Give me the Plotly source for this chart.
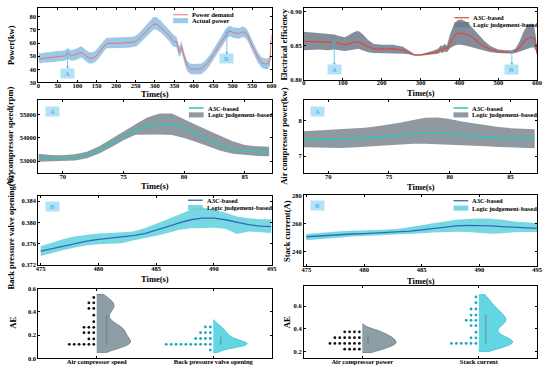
import numpy as np
import plotly.graph_objects as go

W, H = 550, 373
FONT = "Liberation Serif"

# ---------------- data ----------------
# Panel (a): power tracking over the whole cycle
t_power = [0, 4, 10, 20, 30, 40, 50, 60, 68, 75, 80, 85, 95, 105, 110, 115, 122, 130, 140, 148,
           155, 165, 175, 185, 200, 215, 230, 245, 255, 265, 275, 285, 295, 300, 305, 315, 325,
           335, 345, 350, 355, 358, 362, 365, 368, 371, 376, 382, 390, 400, 410, 420, 430, 440,
           450, 460, 470, 480, 488, 495, 500, 510, 518, 525, 532, 538, 545, 555, 565, 575, 585,
           592, 596, 600]
power_demand = [50.5, 48, 48.3, 48.6, 48.8, 49, 49.5, 49.8, 50.2, 52, 51, 50.3, 51.2, 52.5, 53, 52,
                50, 48.5, 48.5, 50, 52.5, 56, 59.5, 59.8, 59.7, 60, 60.3, 60.8, 62, 65, 68, 71.5,
                74, 74.5, 74.2, 72, 69, 66, 62, 61, 61.5, 58, 53, 54, 57.5, 54, 48, 43, 40.5, 40,
                40, 40.5, 43, 46.5, 51, 56, 61, 65.5, 68.5, 69, 68, 67.5, 67.5, 68.5, 68, 66, 61,
                55, 49, 45, 44, 44.5, 47, 66]
power_hi = [54, 52, 52.5, 53, 53, 53.5, 54, 54, 54.5, 56, 55, 54.5, 55.5, 57, 57.5, 56.5, 54.5, 53,
            53, 54.5, 57, 60.5, 64, 64, 64, 64, 64.5, 65, 66.5, 69.5, 73, 76.5, 79.5, 80, 79.5, 77,
            73.5, 70.5, 66.5, 65.5, 65, 62.5, 57.5, 58.5, 61.5, 58.5, 52, 47, 44.5, 44, 44, 44.5,
            47, 50.5, 55, 60, 65, 69.5, 72.5, 73, 72, 71.5, 71.5, 72.5, 72, 70, 65, 59, 53, 49,
            48, 48.5, 51, 70]
power_lo = [46, 44.5, 45, 45, 45.5, 45.5, 46, 46, 46.5, 48, 47.5, 46.5, 47, 48.5, 49, 48, 46, 44.5,
            44.5, 46, 48.5, 52, 56, 56, 56, 56.5, 56.5, 57, 58, 61, 64, 67.5, 70, 70.5, 70, 68, 65,
            62, 58, 57, 57, 54, 49.5, 50, 53, 50, 44, 39, 36.5, 36, 36, 36.5, 39, 42.5, 47, 52,
            57, 61.5, 64.5, 65, 64, 63.5, 63.5, 64.5, 64, 62, 57, 51, 45, 41, 40, 40.5, 43, 62]

# Panel (b): electrical efficiency
t_eff = [0, 20, 40, 60, 78, 90, 105, 118, 130, 140, 150, 165, 180, 200, 230, 255, 270, 285, 300,
         315, 330, 345, 352, 356, 362, 368, 375, 385, 395, 405, 420, 435, 450, 465, 480, 500,
         520, 535, 545, 555, 565, 575, 585, 592, 597, 600]
eff_a3c = [0.856, 0.856, 0.8555, 0.855, 0.855, 0.853, 0.851, 0.853, 0.855, 0.855, 0.853, 0.848,
           0.845, 0.845, 0.845, 0.843, 0.839, 0.836, 0.836, 0.837, 0.839, 0.841, 0.845, 0.843,
           0.847, 0.845, 0.853, 0.863, 0.868, 0.868, 0.866, 0.861, 0.854, 0.848, 0.844, 0.841,
           0.840, 0.840, 0.842, 0.847, 0.855, 0.860, 0.862, 0.861, 0.852, 0.838]
eff_hi = [0.870, 0.869, 0.868, 0.867, 0.866, 0.864, 0.862, 0.866, 0.870, 0.871, 0.867, 0.858,
          0.852, 0.851, 0.851, 0.848, 0.842, 0.837, 0.837, 0.839, 0.842, 0.845, 0.850, 0.849,
          0.852, 0.850, 0.865, 0.880, 0.887, 0.888, 0.884, 0.875, 0.865, 0.856, 0.849, 0.844,
          0.843, 0.843, 0.846, 0.856, 0.870, 0.880, 0.882, 0.880, 0.862, 0.842]
eff_lo = [0.843, 0.844, 0.844, 0.843, 0.844, 0.843, 0.842, 0.843, 0.844, 0.845, 0.843, 0.840,
          0.839, 0.839, 0.839, 0.838, 0.837, 0.835, 0.835, 0.836, 0.837, 0.838, 0.840, 0.839,
          0.841, 0.840, 0.845, 0.849, 0.851, 0.851, 0.849, 0.847, 0.844, 0.842, 0.840, 0.839,
          0.838, 0.838, 0.839, 0.841, 0.844, 0.846, 0.847, 0.847, 0.842, 0.835]

# Zoom A (t = 68 ... 87 s)
t_A = list(range(68, 88))
speed_a3c = [53140, 53120, 53115, 53150, 53260, 53480, 53760, 54060, 54340, 54520, 54600, 54580,
             54450, 54200, 53930, 53680, 53510, 53430, 53410, 53410]
speed_hi = [53310, 53260, 53250, 53290, 53400, 53640, 53950, 54290, 54600, 54900, 55060, 55060,
            54800, 54560, 54320, 54080, 53860, 53700, 53640, 53620]
speed_lo = [52970, 52980, 52990, 53020, 53120, 53330, 53600, 53900, 54140, 54150, 54150, 54130,
            54000, 53830, 53640, 53440, 53310, 53260, 53220, 53210]
cpower_a3c = [7.47, 7.47, 7.47, 7.47, 7.48, 7.51, 7.54, 7.58, 7.62, 7.65, 7.66, 7.66, 7.64, 7.60,
              7.56, 7.53, 7.51, 7.50, 7.50, 7.50]
cpower_hi = [7.70, 7.72, 7.73, 7.75, 7.77, 7.80, 7.84, 7.89, 7.95, 8.02, 8.08, 8.09, 8.05, 7.98,
             7.92, 7.86, 7.82, 7.79, 7.77, 7.76]
cpower_lo = [7.25, 7.24, 7.23, 7.23, 7.24, 7.26, 7.29, 7.32, 7.34, 7.35, 7.35, 7.34, 7.33, 7.32,
             7.30, 7.28, 7.26, 7.24, 7.23, 7.22]

# Zoom B (t = 475 ... 495 s)
t_B = list(range(475, 496))
valve_a3c = [0.3746, 0.3751, 0.3756, 0.3761, 0.3765, 0.3768, 0.3770, 0.3772, 0.3775, 0.3779,
             0.3785, 0.3792, 0.3799, 0.3805, 0.3808, 0.3808, 0.3805, 0.3800, 0.3796, 0.3793, 0.3792]
valve_hi = [0.3755, 0.3762, 0.3769, 0.3774, 0.3777, 0.3779, 0.3780, 0.3781, 0.3783, 0.3789,
            0.3797, 0.3806, 0.3815, 0.3824, 0.3828, 0.3824, 0.3818, 0.3811, 0.3808, 0.3806, 0.3806]
valve_lo = [0.3737, 0.3743, 0.3748, 0.3753, 0.3757, 0.3759, 0.3760, 0.3761, 0.3766, 0.3770,
            0.3775, 0.3780, 0.3786, 0.3789, 0.3790, 0.3790, 0.3788, 0.3778, 0.3783, 0.3781, 0.3780]
current_a3c = [250.5, 251.1, 251.6, 252.1, 252.5, 252.8, 253.1, 253.4, 253.8, 254.5, 255.5, 256.5,
               257.5, 258.3, 258.7, 258.7, 258.3, 257.8, 257.2, 256.8, 256.5]
current_hi = [252.5, 253.3, 254.0, 254.5, 254.8, 255.0, 255.5, 255.8, 256.2, 257.3, 258.8, 260.3,
              261.8, 262.8, 263.3, 263.8, 263.5, 262.8, 261.5, 260.8, 260.5]
current_lo = [248.0, 248.8, 249.6, 250.2, 250.7, 251.0, 251.3, 251.6, 252.0, 252.5, 253.0, 253.5,
              254.0, 254.2, 254.0, 253.2, 252.6, 253.0, 253.8, 254.0, 254.0]

# Absolute errors (AE)
cat_left = ["Air compressor speed", "Back pressure valve opening"]
cat_right = ["Air compressor power", "Stack current"]
ae_speed = [0.523, 0.477, 0.477, 0.429, 0.429, 0.371, 0.314, 0.266, 0.266, 0.266, 0.22, 0.22,
            0.22, 0.166, 0.166, 0.12, 0.12, 0.12, 0.12, 0.12, 0.12]
ae_valve = [0.27, 0.27, 0.22, 0.22, 0.22, 0.17, 0.17, 0.17, 0.17, 0.12, 0.12, 0.12, 0.12, 0.12,
            0.12, 0.12, 0.12, 0.12, 0.12, 0.07]
ae_cpower = [0.373, 0.373, 0.373, 0.373, 0.321, 0.321, 0.321, 0.321, 0.321, 0.321, 0.27, 0.27,
             0.27, 0.27, 0.27, 0.27, 0.27, 0.22, 0.22, 0.22, 0.22]
ae_current = [0.68, 0.63, 0.574, 0.574, 0.52, 0.52, 0.474, 0.474, 0.474, 0.428, 0.428, 0.37,
              0.32, 0.32, 0.27, 0.27, 0.27, 0.27, 0.27, 0.27]

# ---------------- styling ----------------
C_RED1, C_BLUEBAND = "#e8736d", "rgba(140,190,228,0.85)"
C_RED2, C_GRAYBAND = "#e0463e", "rgba(110,122,136,0.85)"
C_TEAL, C_GRAY2 = "#2fc7b8", "rgba(138,148,155,0.95)"
C_BLUE, C_CYANBAND = "#2f6db3", "rgba(95,208,222,0.85)"
C_VGRAY, C_VGRAY_L = "#8d9ea6", "#6c7c84"
C_VCYAN, C_VCYAN_L = "#63d5e3", "#3abfce"
C_MARK = "#53b6ea"


def px(x):
    return x / W


def py(y):
    return 1 - y / H


fig = go.Figure()

domains = {
    1: ([36, 273], [4, 80]),
    2: ([306, 543], [4, 77]),
    3: ([36, 273], [98, 172]),
    4: ([306, 543], [98, 172]),
    5: ([36, 273], [196, 266]),
    6: ([306, 543], [195, 267]),
    7: ([36, 273], [290, 361]),
    8: ([306, 543], [287, 361]),
}


def band(i, x, lo, hi, mid, band_col, line_col, lw):
    xa, ya = ("x" if i == 1 else f"x{i}"), ("y" if i == 1 else f"y{i}")
    fig.add_trace(go.Scatter(x=x, y=lo, mode="lines", line=dict(width=0, color=band_col),
                             hoverinfo="skip", showlegend=False, xaxis=xa, yaxis=ya))
    fig.add_trace(go.Scatter(x=x, y=hi, mode="lines", line=dict(width=0, color=band_col),
                             fill="tonexty", fillcolor=band_col, showlegend=False,
                             xaxis=xa, yaxis=ya))
    fig.add_trace(go.Scatter(x=x, y=mid, mode="lines", line=dict(width=lw, color=line_col),
                             showlegend=False, xaxis=xa, yaxis=ya))


band(1, t_power, power_lo, power_hi, power_demand, C_BLUEBAND, C_RED1, 1.0)
band(2, t_eff, eff_lo, eff_hi, eff_a3c, C_GRAYBAND, C_RED2, 1.2)
band(3, t_A, speed_lo, speed_hi, speed_a3c, C_GRAY2, C_TEAL, 1.5)
band(4, t_A, cpower_lo, cpower_hi, cpower_a3c, C_GRAY2, C_TEAL, 1.5)
band(5, t_B, valve_lo, valve_hi, valve_a3c, C_CYANBAND, C_BLUE, 1.3)
band(6, t_B, current_lo, current_hi, current_a3c, C_CYANBAND, C_BLUE, 1.3)


def dots(values, center, step=0.042, gap=0.025):
    xs, ys, counts = [], [], {}
    for v in values:
        k = counts.get(v, 0)
        counts[v] = k + 1
        xs.append(center - gap - k * step)
        ys.append(v)
    return xs, ys


def rain(i, values, pos, fill, line, dotcol, span, bw, box_off, box_col):
    xa, ya = f"x{i}", f"y{i}"
    fig.add_trace(go.Violin(y=values, x0=pos, side="positive", width=0.58, spanmode="manual",
                            span=span, bandwidth=bw, fillcolor=fill,
                            line=dict(color=line, width=0.8), points=False,
                            box=dict(visible=False), meanline=dict(visible=False),
                            showlegend=False, xaxis=xa, yaxis=ya, hoverinfo="skip"))
    q1, med, q3 = np.percentile(values, [25, 50, 75])
    fig.add_trace(go.Box(x=[pos + box_off], q1=[q1], median=[med], q3=[q3], lowerfence=[q1],
                         upperfence=[q3], width=0.008, fillcolor=box_col,
                         line=dict(color=box_col, width=0.4), boxpoints=False,
                         showlegend=False, xaxis=xa, yaxis=ya, hoverinfo="skip"))
    xs, ys = dots(values, pos)
    fig.add_trace(go.Scatter(x=xs, y=ys, mode="markers",
                             marker=dict(size=2.8, color=dotcol), showlegend=False,
                             xaxis=xa, yaxis=ya))


rain(7, ae_speed, 0, C_VGRAY, C_VGRAY_L, "#111111", [0.05, 0.55], 0.05, 0.085, "#76858c")
rain(7, ae_valve, 1, C_VCYAN, C_VCYAN_L, "#1aa6c0", [0.05, 0.33], 0.03, 0.065, "#6a9ea8")
rain(8, ae_cpower, 0, C_VGRAY, C_VGRAY_L, "#111111", [0.19, 0.44], 0.03, 0.05, "#76858c")
rain(8, ae_current, 1, C_VCYAN, C_VCYAN_L, "#1aa6c0", [0.20, 0.70], 0.05, 0.06, "#6a9ea8")

tickfont = dict(family=FONT, size=6.5, color="black", weight="bold")
axis_common = dict(showline=True, linecolor="black", linewidth=1, mirror="ticks",
                   ticks="inside", ticklen=2, tickcolor="black", tickfont=tickfont,
                   showgrid=False, zeroline=False)

xr = {1: [0, 600], 2: [0, 600], 3: [68, 87.2], 4: [68, 87.2], 5: [474.8, 495], 6: [474.8, 495],
      7: [-0.5, 1.5], 8: [-0.5, 1.5]}
yr = {1: [30, 86.7], 2: [0.80, 0.905], 3: [52490, 55640], 4: [6.53, 8.58],
      5: [0.372, 0.3849], 6: [229.3, 280.5], 7: [0, 0.6], 8: [0.14, 0.78]}
xt = {1: dict(dtick=50, tick0=0), 2: dict(dtick=100, tick0=0), 3: dict(dtick=5, tick0=70),
      4: dict(dtick=5, tick0=70), 5: dict(dtick=5, tick0=480), 6: dict(dtick=5, tick0=480),
      7: dict(tickmode="array", tickvals=[0, 1], ticktext=cat_left),
      8: dict(tickmode="array", tickvals=[0, 1], ticktext=cat_right)}
yt = {1: dict(dtick=10, tick0=30), 2: dict(dtick=0.05, tick0=0.8, tickformat=".2f"),
      3: dict(dtick=1000, tick0=53000, tickformat="d"), 4: dict(dtick=1, tick0=7),
      5: dict(dtick=0.004, tick0=0.372, tickformat=".3f"), 6: dict(dtick=20, tick0=240),
      7: dict(dtick=0.2, tick0=0, tickformat=".1f"), 8: dict(dtick=0.2, tick0=0.2, tickformat=".1f")}

layout = dict(width=W, height=H, margin=dict(l=0, r=0, t=0, b=0), paper_bgcolor="white",
              plot_bgcolor="white", showlegend=False, violinmode="overlay", boxmode="overlay")
for i, (dx, dy) in domains.items():
    sx = "" if i == 1 else str(i)
    layout[f"xaxis{sx}"] = dict(domain=[px(dx[0]), px(dx[1])], range=xr[i], anchor=f"y{sx}",
                                ticklabelstandoff=-3, **axis_common, **xt[i])
    layout[f"yaxis{sx}"] = dict(domain=[py(dy[1]), py(dy[0])], range=yr[i], anchor=f"x{sx}",
                                **axis_common, **yt[i])
fig.update_layout(**layout)

ann = []
titlefont = dict(family=FONT, size=8.5, color="black", weight="bold")
# x-axis titles
for x, y in [(154.5, 92), (424.5, 91), (154.5, 185), (424.5, 187), (154.5, 280), (424.5, 282)]:
    ann.append(dict(text="Time(s)", x=px(x), y=py(y), xref="paper", yref="paper",
                    showarrow=False, font=titlefont, xanchor="center", yanchor="middle"))
# y-axis titles
ytitles = [("Power(kw)", 8, 42), ("Electrical efficiency", 286, 41),
           ("Air compressor speed(rpm)", 8, 135), ("Air compressor power(kw)", 286, 135),
           ("Back pressure valve opening(%)", 8, 231), ("Stack current(A)", 288, 231),
           ("AE", 10, 325), ("AE", 289, 324)]
for txt, x, y in ytitles:
    ann.append(dict(text=txt, x=px(x), y=py(y), xref="paper", yref="paper", showarrow=False,
                    textangle=-90, font=titlefont, xanchor="center", yanchor="middle"))

# legends (drawn manually to keep them compact)
legfont = dict(family=FONT, size=6.5, color="black", weight="bold")
shapes = []
legends = [
    (173, 188, 11, 17, "Power demand", "Actual power", C_RED1, C_BLUEBAND, 1.0),
    (459, 474, 14, 21, "A3C-based", "Logic judgement-based", C_RED2, C_GRAYBAND, 1.2),
    (189, 204, 106, 113, "A3C-based", "Logic judgement-based", C_TEAL, C_GRAY2, 1.5),
    (458, 473, 106, 113, "A3C-based", "Logic judgement-based", C_TEAL, C_GRAY2, 1.5),
    (188, 203, 200, 207.5, "A3C-based", "Logic judgement-based", C_BLUE, C_CYANBAND, 1.3),
    (458, 473, 200.5, 208, "A3C-based", "Logic judgement-based", C_BLUE, C_CYANBAND, 1.3),
]
for x0, x1, y1, y2, t1, t2, lc, bc, lw in legends:
    shapes.append(dict(type="line", xref="paper", yref="paper", x0=px(x0), x1=px(x1),
                       y0=py(y1), y1=py(y1), line=dict(color=lc, width=lw)))
    shapes.append(dict(type="rect", xref="paper", yref="paper", x0=px(x0), x1=px(x1),
                       y0=py(y2 + 2.6), y1=py(y2 - 2.6), fillcolor=bc, line=dict(width=0)))
    for yy, tt in [(y1, t1), (y2, t2)]:
        ann.append(dict(text=tt, x=px(x1 + 2), y=py(yy), xref="paper", yref="paper",
                        showarrow=False, font=legfont, xanchor="left", yanchor="middle"))

# A / B markers
markfont = dict(family=FONT, size=6.5, color=C_MARK, weight="bold")


def label_box(text, x, y, xref, yref):
    ann.append(dict(text=text, x=x, y=y, xref=xref, yref=yref, showarrow=False, font=markfont,
                    bgcolor="#b3e2f7", width=11, height=7, xanchor="center", yanchor="middle"))


# panel 1
for t, yp, ybox, lab in [(75, 52, 37.2, "A"), (485, 69, 48, "B")]:
    shapes.append(dict(type="circle", xref="x", yref="y", x0=t - 4, x1=t + 4, y0=yp - 1.3,
                       y1=yp + 1.3, line=dict(color=C_MARK, width=0.8)))
    ann.append(dict(text="", x=t, y=ybox + 3, xref="x", yref="y", ax=t, ay=yp - 1.3,
                    axref="x", ayref="y", showarrow=True, arrowhead=2, arrowsize=0.7,
                    arrowwidth=0.8, arrowcolor=C_MARK))
    label_box(lab, t, ybox, "x", "y")
# panel 2
for t, yp, lab in [(78, 0.855, "A"), (535, 0.840, "B")]:
    shapes.append(dict(type="circle", xref="x2", yref="y2", x0=t - 5, x1=t + 5, y0=yp - 0.0015,
                       y1=yp + 0.0015, line=dict(color=C_MARK, width=0.8)))
    ann.append(dict(text="", x=t, y=0.8205, xref="x2", yref="y2", ax=t, ay=yp - 0.0015,
                    axref="x2", ayref="y2", showarrow=True, arrowhead=2, arrowsize=0.7,
                    arrowwidth=0.8, arrowcolor=C_MARK))
    label_box(lab, t, 0.8145, "x2", "y2")
# zoom panels
for i, lab in [(3, "A"), (4, "A"), (5, "B"), (6, "B")]:
    label_box(lab, 0.06, 0.85, f"x{i} domain", f"y{i} domain")

fig.update_layout(annotations=ann, shapes=shapes)
fig.write_html("out.html", config={"displayModeBar": False},
               post_script="document.body.style.margin='0px';")
